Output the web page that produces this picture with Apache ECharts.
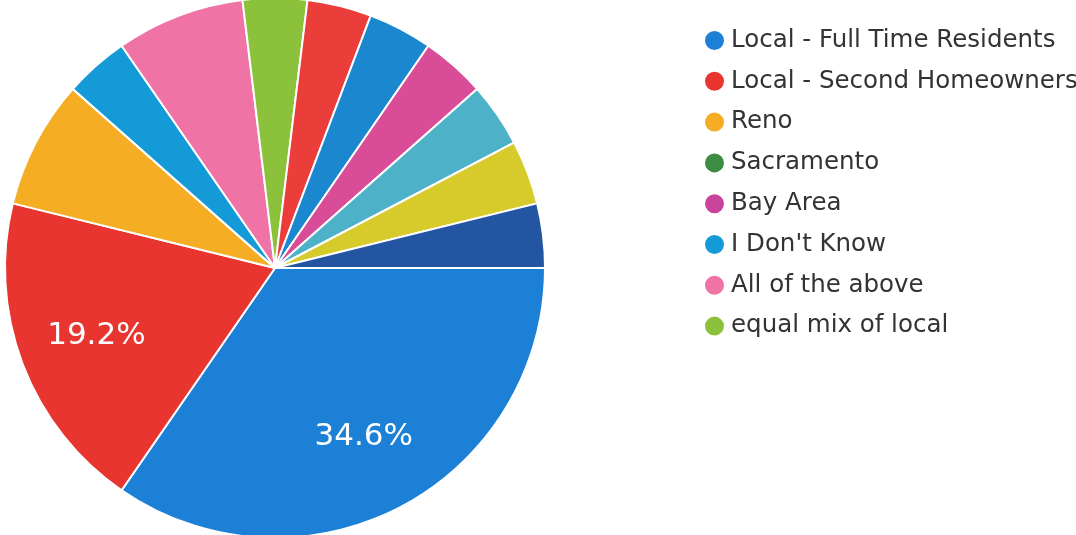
<!DOCTYPE html>
<html>
<head>
<meta charset="utf-8">
<script src="https://cdn.jsdelivr.net/npm/echarts@6/dist/echarts.min.js"></script>
<style>
  html, body { margin: 0; padding: 0; background: #fff; }
  #chart { width: 1076px; height: 535px; }
</style>
</head>
<body>
<div id="chart"></div>
<script>
// answer categories (only the first 8 fit in the legend)
const categories = [
  "Local - Full Time Residents",
  "Local - Second Homeowners",
  "Reno",
  "Sacramento",
  "Bay Area",
  "I Don't Know",
  "All of the above",
  "equal mix of local",
  "Other answer 1",
  "Other answer 2",
  "Other answer 3",
  "Other answer 4",
  "Other answer 5",
  "Other answer 6"
];
// response counts (26 responses)
const counts = [9, 5, 2, 0, 0, 1, 2, 1, 1, 1, 1, 1, 1, 1];
const legendCount = 8;

const colors = [
  "#1c80d6", "#e83530", "#f5ae23", "#3a8d42", "#c8449a", "#159ad8", "#ef74a5",
  "#8cc13c", "#eb3d3a", "#1b87cf", "#d94c98", "#4db2c7", "#d6cb2b", "#2455a2"
];

const pieData = categories.map((name, i) => ({ name: name, value: counts[i] }));

let myChart = echarts.init(document.getElementById("chart"));
myChart.setOption({
  backgroundColor: "#fff",
  color: colors,
  animation: false,
  legend: {
    orient: "vertical",
    left: 698,
    top: 23,
    data: categories.slice(0, legendCount),
    icon: "circle",
    itemWidth: 21,
    itemHeight: 21,
    itemGap: 15.8,
    selectedMode: false,
    textStyle: {
      fontFamily: "DejaVu Sans",
      fontSize: 24.5,
      color: "#333",
      padding: [0, 0, 0, 1]
    }
  },
  series: [
    {
      type: "pie",
      center: [275, 268],
      radius: [0, 270],
      startAngle: 0,
      clockwise: true,
      avoidLabelOverlap: false,
      itemStyle: { borderColor: "#fff", borderWidth: 2 },
      label: { show: false },
      labelLine: { show: false },
      emphasis: { disabled: true },
      data: pieData
    },
    {
      // transparent copy, only used to place the percentage labels further out
      type: "pie",
      center: [275, 268],
      radius: [0, 376],
      startAngle: 0,
      clockwise: true,
      silent: true,
      avoidLabelOverlap: false,
      percentPrecision: 1,
      itemStyle: { color: "transparent", borderWidth: 0 },
      label: {
        show: true,
        position: "inside",
        fontFamily: "DejaVu Sans",
        fontSize: 31,
        color: "#fff",
        formatter: function (p) {
          return p.percent >= 10 ? p.percent + "%" : "";
        }
      },
      labelLine: { show: false },
      emphasis: { disabled: true },
      data: pieData
    }
  ]
});
</script>
</body>
</html>
